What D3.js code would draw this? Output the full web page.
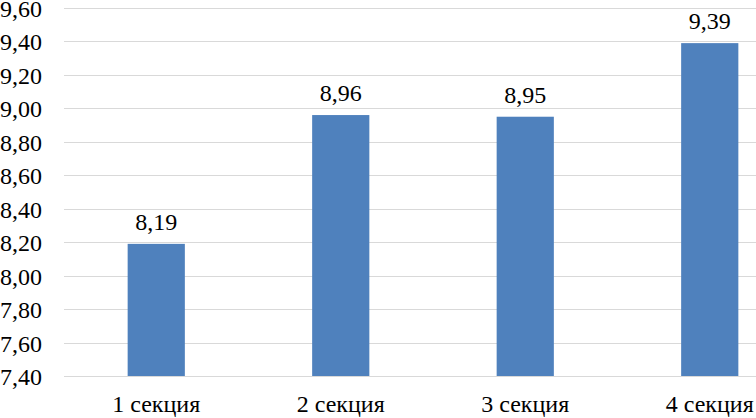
<!DOCTYPE html>
<html>
<head>
<meta charset="utf-8">
<style>
  body { margin: 0; background: #fff; }
  .grid line { stroke: #d9d9d9; stroke-width: 1; }
</style>
</head>
<body>
<svg width="756" height="418"></svg>
<script src="https://cdnjs.cloudflare.com/ajax/libs/d3/7.8.5/d3.min.js"></script>
<script>
var categories = ["1 секция", "2 секция", "3 секция", "4 секция"];
var values = [8.19, 8.96, 8.95, 9.39];
var yTicks = [7.4, 7.6, 7.8, 8.0, 8.2, 8.4, 8.6, 8.8, 9.0, 9.2, 9.4, 9.6];

var svg = d3.select("svg"),
    plotLeft = 64, plotRight = 802, plotTop = 8, plotBottom = 376,
    fontSize = 24,
    fontFamily = "'Liberation Serif'";

var fmt = function (v) { return d3.format(".2f")(v).replace(".", ","); };

var x = d3.scaleBand().domain(categories).range([plotLeft, plotRight]).paddingInner(0.69).paddingOuter(0.345);
var y = d3.scaleLinear().domain([7.4, 9.6]).range([plotBottom, plotTop]);

// gridlines
svg.append("g").attr("class", "grid")
    .selectAll("line").data(yTicks).enter().append("line")
    .attr("x1", plotLeft).attr("x2", 756)
    .attr("y1", function (d) { return Math.round(y(d)) + 0.5; })
    .attr("y2", function (d) { return Math.round(y(d)) + 0.5; });

// y tick labels
svg.append("g").selectAll("text").data(yTicks).enter().append("text")
    .attr("x", 42).attr("y", function (d) { return y(d) + 9; })
    .attr("text-anchor", "end")
    .attr("font-family", fontFamily)
    .attr("font-size", fontSize)
    .text(fmt);

// bars
svg.append("g").selectAll("rect").data(values).enter().append("rect")
    .attr("x", function (d, i) { return x(categories[i]); })
    .attr("width", x.bandwidth())
    .attr("y", function (d) { return y(d); })
    .attr("height", function (d) { return plotBottom - y(d); })
    .attr("fill", "#4f81bd");

// value labels
svg.append("g").selectAll("text").data(values).enter().append("text")
    .attr("x", function (d, i) { return x(categories[i]) + x.bandwidth() / 2; })
    .attr("y", function (d) { return y(d) - 14; })
    .attr("text-anchor", "middle")
    .attr("font-family", fontFamily)
    .attr("font-size", fontSize)
    .text(fmt);

// category labels
svg.append("g").selectAll("text").data(categories).enter().append("text")
    .attr("x", function (d) { return x(d) + x.bandwidth() / 2; })
    .attr("y", 412)
    .attr("text-anchor", "middle")
    .attr("font-family", fontFamily)
    .attr("font-size", fontSize)
    .text(function (d) { return d; });
</script>
</body>
</html>
